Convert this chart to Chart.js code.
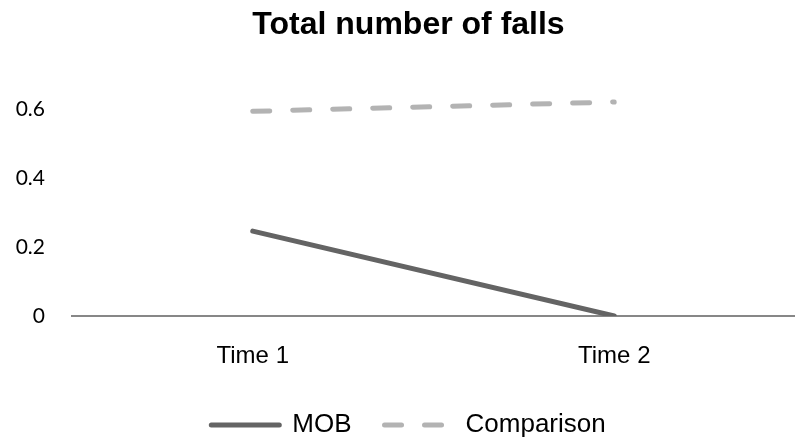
<!DOCTYPE html>
<html>
<head>
<meta charset="utf-8">
<script src="https://cdn.jsdelivr.net/npm/chart.js@4/dist/chart.umd.min.js"></script>
<style>
  html, body { margin: 0; padding: 0; background: #fff; }
  #wrap { width: 795px; height: 438px; position: relative; }
</style>
</head>
<body>
<div id="wrap"><canvas id="chart"></canvas></div>
<script>
// data
const categories = ['Time 1', 'Time 2'];
const mobValues = [0.246, 0];
const comparisonValues = [0.593, 0.62];
const yTicks = [0, 0.2, 0.4, 0.6];

// the title and legend sit a little right of centre in the original
const shiftBlocks = {
  id: 'shiftBlocks',
  afterLayout(chart) {
    [chart.titleBlock, chart.legend].forEach((b) => {
      if (b) { b.left += 11; b.right += 11; }
    });
  },
};

const ctx = document.getElementById('chart');

new Chart(ctx, {
  type: 'line',
  data: {
    labels: categories,
    datasets: [
      {
        label: 'MOB',
        data: mobValues,
        borderColor: '#646464',
        backgroundColor: '#646464',
        borderWidth: 5,
        borderCapStyle: 'round',
        pointRadius: 0,
        tension: 0,
      },
      {
        label: 'Comparison',
        data: comparisonValues,
        borderColor: '#b3b3b3',
        backgroundColor: '#b3b3b3',
        borderWidth: 5,
        borderDash: [17, 23],
        borderCapStyle: 'round',
        pointRadius: 0,
        tension: 0,
      },
    ],
  },
  options: {
    responsive: true,
    maintainAspectRatio: false,
    animation: false,
    layout: {
      padding: { left: 0, right: 0, top: 0, bottom: -10 },
    },
    plugins: {
      title: {
        display: true,
        text: 'Total number of falls',
        color: '#000',
        font: { family: 'Liberation Sans, Arial, sans-serif', size: 32, weight: 'bold' },
        padding: { top: 6, bottom: 30 },
      },
      legend: {
        position: 'bottom',
        labels: {
          color: '#000',
          font: { family: 'Liberation Sans, Arial, sans-serif', size: 26 },
          usePointStyle: true,
          pointStyle: 'line',
          pointStyleWidth: 68,
          padding: 33,
          generateLabels: (chart) => chart.data.datasets.map((ds, i) => ({
            text: ds.label,
            fillStyle: ds.borderColor,
            strokeStyle: ds.borderColor,
            lineWidth: 5,
            lineCap: 'round',
            lineDash: ds.borderDash || [],
            pointStyle: 'line',
            datasetIndex: i,
            fontColor: '#000',
          })),
        },
      },
      tooltip: { enabled: false },
    },
    scales: {
      x: {
        offset: true,
        grid: { display: false, drawTicks: false },
        border: { display: true, color: '#878787', width: 2 },
        afterFit: (scale) => { scale.height = 63; },
        ticks: {
          color: '#000',
          padding: 26,
          font: { family: 'Liberation Sans, Arial, sans-serif', size: 24 },
        },
      },
      y: {
        min: 0,
        max: 0.7,
        grid: { display: false, drawTicks: false },
        border: { display: false },
        afterFit: (scale) => { scale.width = 72; },
        afterBuildTicks: (scale) => {
          scale.ticks = yTicks.map((v) => ({ value: v }));
        },
        ticks: {
          color: '#000',
          padding: 27,
          font: { family: 'Lato, sans-serif', size: 21 },
          callback: (v) => String(v),
        },
      },
    },
  },
  plugins: [shiftBlocks],
});
</script>
</body>
</html>
